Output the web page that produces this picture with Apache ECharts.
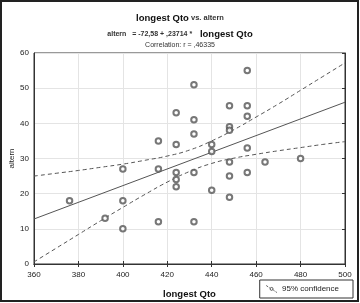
<!DOCTYPE html>
<html>
<head>
<meta charset="utf-8">
<script src="https://cdn.jsdelivr.net/npm/echarts@6/dist/echarts.min.js"></script>
<style>
  html, body { margin: 0; padding: 0; background: #fff; }
  #chart { width: 360px; height: 303px; }
</style>
</head>
<body>
<div id="chart"></div>
<script>
// scatter points
const qto = [376, 392, 400, 400, 400, 416, 416, 416, 424, 424, 424, 424, 424,
  432, 432, 432, 432, 432, 440, 440, 440, 448, 448, 448, 448, 448, 448,
  456, 456, 456, 456, 456, 464, 480];
const altern = [18, 13, 27, 18, 10, 35, 27, 12, 43, 34, 26, 24, 22,
  51, 41, 37, 26, 12, 34, 32, 21, 45, 39, 38, 29, 25, 19,
  55, 45, 42, 33, 26, 29, 30];

// fitted line ends
const fitX = [360, 500];
const fitY = [12.8, 46.0];

// 95% confidence band
const bandX = [360, 370, 380, 390, 400, 410, 420, 430, 440, 450, 460, 470, 480, 490, 500];
const bandUpper = [25.0, 25.8, 26.6, 27.5, 28.4, 29.5, 30.7, 32.4, 35.0, 38.2, 41.8, 45.5, 49.4, 53.3, 57.2];
const bandLower = [0.6, 4.5, 8.4, 12.3, 16.1, 19.8, 23.3, 26.3, 28.6, 30.1, 31.2, 32.2, 33.1, 34.0, 34.8];

const xTicks = { min: 360, max: 500, interval: 20 };
const yTicks = { min: 0, max: 60, interval: 10 };

const zip = (a, b) => a.map((v, i) => [v, b[i]]);

const chart = echarts.init(document.getElementById('chart'));
const ink = '#333';
const font = 'Liberation Sans, Arial, sans-serif';

chart.setOption({
  animation: false,
  backgroundColor: '#fff',
  textStyle: { fontFamily: font },
  title: [
    {
      text: '{b|longest Qto}{s| vs. altern}',
      left: 'center', top: 8,
      textStyle: {
        rich: {
          b: { fontSize: 9.5, fontWeight: 'bold', color: '#111', fontFamily: font },
          s: { fontSize: 7.5, color: '#333', fontFamily: font }
        }
      }
    },
    {
      text: '{s|altern   = -72,58 + ,23714 *    }{b|longest Qto}',
      left: 'center', top: 24,
      textStyle: {
        rich: {
          b: { fontSize: 9.5, fontWeight: 'bold', color: '#111', fontFamily: font },
          s: { fontSize: 7, color: '#333', fontFamily: font }
        }
      }
    },
    {
      text: 'Correlation: r = ,46335',
      left: 'center', top: 37,
      textStyle: { fontSize: 7, fontWeight: 'normal', color: '#333', fontFamily: font }
    }
  ],
  grid: {
    left: 34, right: 15, top: 53, bottom: 39,
    outerBoundsMode: 'none', containLabel: false,
    show: true, borderColor: ink, borderWidth: 1
  },
  legend: {
    data: ['95% confidence'],
    right: 7, bottom: 5,
    selectedMode: false,
    borderColor: ink, borderWidth: 1,
    padding: [3, 14, 3, 4],
    itemWidth: 11, itemHeight: 7, itemGap: 3,
    icon: 'path://M0,0L2,1.4M3.2,2.2L4,2.8M4,3.5a1.5,1.5 0 1,0 3,0a1.5,1.5 0 1,0 -3,0M7.2,4.6L8.6,5.6M9.6,6.3L11,7.2',
    itemStyle: { color: 'none', borderColor: ink, borderWidth: 0.8 },
    textStyle: { fontSize: 8, color: '#222', fontFamily: font }
  },
  xAxis: [
    {
      type: 'value', ...xTicks,
      name: 'longest Qto', nameLocation: 'middle', nameGap: 25,
      nameTextStyle: { fontSize: 9.5, fontWeight: 'bold', color: '#111', fontFamily: font },
      axisLine: { lineStyle: { color: ink } },
      axisTick: { inside: true, length: 3, lineStyle: { color: ink } },
      axisLabel: { fontSize: 8, color: '#222', margin: 7 },
      splitLine: { lineStyle: { color: '#e4e4e4' } }
    },
    {
      type: 'value', ...xTicks, position: 'top',
      axisLine: { lineStyle: { color: ink } },
      axisTick: { inside: true, length: 3, lineStyle: { color: ink } },
      axisLabel: { show: false },
      splitLine: { show: false }
    }
  ],
  yAxis: [
    {
      type: 'value', ...yTicks,
      name: 'altern', nameLocation: 'middle', nameGap: 18,
      nameMoveOverlap: false,
      nameTextStyle: { fontSize: 8, color: '#222', fontFamily: font },
      axisLine: { show: true, lineStyle: { color: ink } },
      axisTick: { show: false },
      axisLabel: { fontSize: 8, color: '#222', margin: 5 },
      splitLine: { lineStyle: { color: '#e4e4e4' } }
    },
    {
      type: 'value', ...yTicks, position: 'right',
      axisLine: { show: true, lineStyle: { color: ink } },
      axisTick: { show: true, inside: true, length: 3, lineStyle: { color: ink } },
      axisLabel: { show: false },
      splitLine: { show: false }
    }
  ],
  series: [
    {
      name: 'altern',
      type: 'scatter',
      data: zip(qto, altern),
      symbol: 'emptyCircle',
      symbolSize: 5.5,
      itemStyle: { color: '#555', borderColor: '#555', borderWidth: 0.8 },
      z: 5
    },
    {
      name: 'fit',
      type: 'line',
      data: zip(fitX, fitY),
      showSymbol: false,
      lineStyle: { color: '#555', width: 1 }
    },
    {
      name: '95% confidence',
      type: 'line',
      data: zip(bandX, bandUpper),
      smooth: true,
      showSymbol: false,
      lineStyle: { color: '#555', width: 1, type: [4, 3] }
    },
    {
      name: '95% confidence',
      type: 'line',
      data: zip(bandX, bandLower),
      smooth: true,
      showSymbol: false,
      lineStyle: { color: '#555', width: 1, type: [4, 3] }
    }
  ],
  graphic: [
    {
      type: 'rect',
      shape: { x: 1, y: 1, width: 357, height: 300 },
      style: { fill: 'none', stroke: '#222', lineWidth: 2 },
      silent: true
    }
  ]
});
</script>
</body>
</html>
